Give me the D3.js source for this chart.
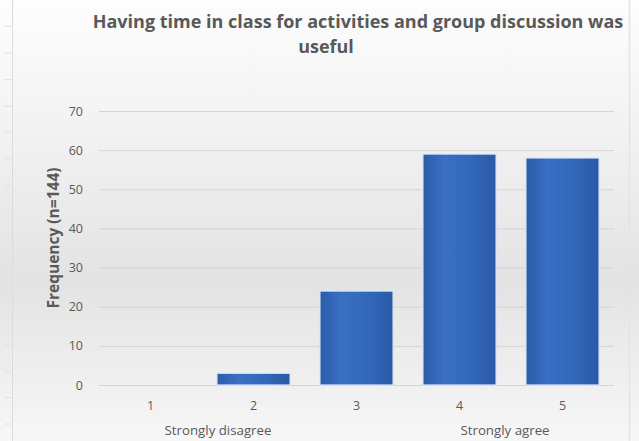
<!DOCTYPE html>
<html>
<head>
<meta charset="utf-8">
<script src="https://cdn.jsdelivr.net/npm/d3@7"></script>
<style>
  html, body { margin: 0; padding: 0; background: #fff; }
  svg { display: block; }
</style>
</head>
<body>
<div id="chart"></div>
<script>
// Survey responses on a 1–5 agreement scale
const categories = ["1", "2", "3", "4", "5"];
const frequencies = [0, 3, 24, 59, 58];
const yTicks = [0, 10, 20, 30, 40, 50, 60, 70];
const titleLines = ["Having time in class for activities and group discussion was", "useful"];
const yAxisTitle = "Frequency (n=144)";
const scaleEndLabels = [
  { text: "Strongly disagree", between: ["1", "2"], shift: 16 },
  { text: "Strongly agree", between: ["4", "5"], shift: -6 }
];

const W = 639, H = 441;
const margin = { top: 111, right: 25, bottom: 56, left: 99 };
const font = "'Open Sans', 'DejaVu Sans', sans-serif";
const textColor = "#595959";

const svg = d3.select("#chart").append("svg")
  .attr("width", W).attr("height", H);

// Shrink or grow a text's font size until it spans the given width
function fitWidth(sel, width) {
  sel.each(function () {
    const base = parseFloat(this.getAttribute("font-size"));
    const w = this.getComputedTextLength();
    if (w > 0) this.setAttribute("font-size", (base * width / w).toFixed(2));
  });
}

const defs = svg.append("defs");

// Soft vertical background wash
const bg = defs.append("linearGradient")
  .attr("id", "bgGrad").attr("x1", 0).attr("y1", 0).attr("x2", 0).attr("y2", 1);
bg.append("stop").attr("offset", "0%").attr("stop-color", "#fdfdfd");
bg.append("stop").attr("offset", "30%").attr("stop-color", "#f2f2f2");
bg.append("stop").attr("offset", "64%").attr("stop-color", "#e3e3e3");
bg.append("stop").attr("offset", "100%").attr("stop-color", "#f7f7f7");

// Bar fill with slight horizontal shading
const barGrad = defs.append("linearGradient")
  .attr("id", "barGrad").attr("x1", 0).attr("y1", 0).attr("x2", 1).attr("y2", 0);
barGrad.append("stop").attr("offset", "0%").attr("stop-color", "#2c5ca9");
barGrad.append("stop").attr("offset", "30%").attr("stop-color", "#3a6fc4");
barGrad.append("stop").attr("offset", "70%").attr("stop-color", "#3166b8");
barGrad.append("stop").attr("offset", "100%").attr("stop-color", "#2a59a6");

svg.append("rect").attr("x", 0).attr("y", 0).attr("width", W).attr("height", H)
  .attr("fill", "url(#bgGrad)");

// Frame rules at the page edges
svg.append("line").attr("x1", 12.5).attr("x2", 12.5).attr("y1", 0).attr("y2", H)
  .attr("stroke", "#dcdcdc").attr("stroke-width", 1);
const ruleMarks = d3.range(0, H, 26.5);
svg.append("g").selectAll("line").data(ruleMarks).join("line")
  .attr("x1", 4).attr("x2", 12)
  .attr("y1", d => d + 26.5).attr("y2", d => d + 26.5)
  .attr("stroke", "#e2e2e2").attr("stroke-width", 1);
svg.append("line").attr("x1", 629.5).attr("x2", 629.5).attr("y1", 0).attr("y2", H)
  .attr("stroke", "#e4e4e4").attr("stroke-width", 1.5);

const x = d3.scaleBand()
  .domain(categories)
  .range([margin.left, W - margin.right])
  .paddingInner(0.29)
  .paddingOuter(0.145);

const y = d3.scaleLinear()
  .domain([0, 70])
  .range([H - margin.bottom, margin.top]);

// Horizontal gridlines
svg.append("g")
  .attr("transform", `translate(${margin.left},0)`)
  .call(d3.axisLeft(y).tickValues(yTicks).tickSize(-(x.range()[1] - margin.left)).tickFormat(""))
  .call(g => g.select(".domain").remove())
  .call(g => g.selectAll(".tick line").attr("stroke", "#d4d4d4").attr("stroke-width", 1));

// Y tick labels
svg.append("g")
  .attr("transform", `translate(${margin.left - 16},0)`)
  .call(d3.axisLeft(y).tickValues(yTicks).tickSize(0).tickPadding(0))
  .call(g => g.select(".domain").remove())
  .call(g => g.selectAll("text")
    .attr("fill", textColor).attr("font-family", font).attr("font-size", 12.5));

// Bars
svg.append("g").selectAll("rect")
  .data(categories.map((c, i) => ({ c, v: frequencies[i] })).filter(d => d.v > 0))
  .join("rect")
  .attr("x", d => x(d.c))
  .attr("y", d => y(d.v))
  .attr("width", x.bandwidth())
  .attr("height", d => y(0) - y(d.v))
  .attr("fill", "url(#barGrad)")
  .attr("stroke", "#dbe9f8")
  .attr("stroke-width", 1.2);

// Category labels
svg.append("g")
  .attr("transform", `translate(0,${H - margin.bottom})`)
  .call(d3.axisBottom(x).tickSize(0).tickPadding(16))
  .call(g => g.select(".domain").remove())
  .call(g => g.selectAll("text")
    .attr("fill", textColor).attr("font-family", font).attr("font-size", 12.5));

// Scale end descriptors
const ends = svg.append("g").selectAll("text").data(scaleEndLabels).join("text")
  .attr("x", d => (x(d.between[0]) + x(d.between[1])) / 2 + x.bandwidth() / 2 + d.shift)
  .attr("y", 435)
  .attr("text-anchor", "middle")
  .attr("fill", textColor).attr("font-family", font).attr("font-size", 12)
  .text(d => d.text);
fitWidth(ends.filter((d, i) => i === 0), 107);
ends.filter((d, i) => i === 1).attr("font-size", ends.filter((d, i) => i === 0).attr("font-size"));

// Title, two lines
const title = svg.append("g").selectAll("text").data(titleLines).join("text")
  .attr("x", (d, i) => i === 0 ? 358 : 326)
  .attr("y", (d, i) => 28 + i * 25)
  .attr("text-anchor", "middle")
  .attr("fill", textColor).attr("font-family", font)
  .attr("font-size", 16).attr("font-weight", 700)
  .text(d => d);
fitWidth(title.filter((d, i) => i === 0), 531);
title.filter((d, i) => i === 1).attr("font-size", title.filter((d, i) => i === 0).attr("font-size"));

// Y axis title
const yTitle = svg.append("text")
  .attr("transform", `translate(59,${(y(0) + y(70)) / 2 - 10}) rotate(-90)`)
  .attr("text-anchor", "middle")
  .attr("fill", textColor).attr("font-family", font)
  .attr("font-size", 12.5).attr("font-weight", 700)
  .text(yAxisTitle);
fitWidth(yTitle, 141);
</script>
</body>
</html>
